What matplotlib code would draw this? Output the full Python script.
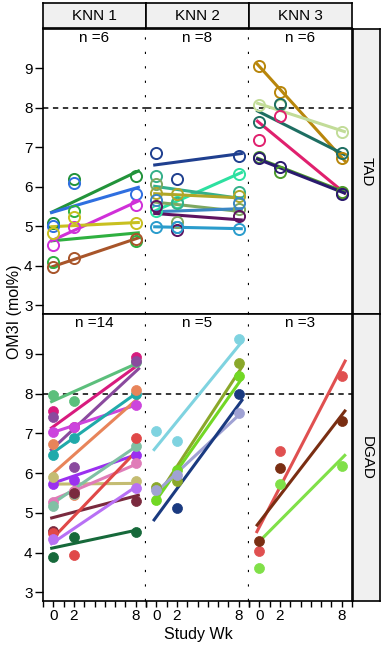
import numpy as np
import matplotlib
matplotlib.use('Agg')
import matplotlib.pyplot as plt

plt.rcParams['font.family'] = ['Liberation Sans', 'DejaVu Sans']

# semanas de estudio
weeks = [0, 2, 8]
nan = np.nan

col_labels = ['KNN 1', 'KNN 2', 'KNN 3']
row_labels = ['TAD', 'DGAD']

# TAD (circulos huecos): valores OM3I en sem 0, 2, 8 y recta ajustada (inicio, fin)
tad1_cols = ['#22933a', '#2f6fe0', '#2fb040', '#d030d8', '#c8c020', '#a8552a']
tad1_vals = [[5.09, 6.21, 6.28], [5.00, 6.10, 5.81], [4.10, 5.38, 4.63],
             [4.54, 4.99, 5.53], [4.83, 5.24, 5.09], [3.96, 4.21, 4.67]]
tad1_fit = [[5.34, 6.42], [5.34, 6.00], [4.63, 4.84],
            [4.62, 5.66], [4.99, 5.10], [3.96, 4.72]]

tad2_cols = ['#1f3f8f', '#2de0a0', '#35b08a', '#b0a628',
             '#7fa860', '#3a86c4', '#5e1260', '#2a9ccc']
tad2_vals = [[6.86, 6.19, 6.78], [5.40, 5.62, 6.32], [6.28, 5.58, 5.87],
             [5.85, 5.81, 5.77], [6.07, 5.11, 5.45], [5.66, 4.98, 5.58],
             [5.51, 4.92, 5.26], [4.98, 4.98, 4.94]]
tad2_fit = [[6.55, 6.85], [5.37, 6.38], [6.02, 5.70], [5.83, 5.72],
            [5.62, 5.37], [5.37, 5.45], [5.33, 5.16], [4.99, 4.94]]

tad3_cols = ['#b8860b', '#c2dc98', '#1e6e62', '#e0206e', '#4c9a2a', '#2a1a6e']
tad3_vals = [[9.06, 8.41, 6.73], [8.07, 8.07, 7.39], [7.65, 8.09, 6.85],
             [7.18, 7.79, 5.85], [6.76, 6.38, 5.88], [6.72, 6.51, 5.83]]
tad3_fit = [[9.14, 6.63], [8.13, 7.39], [7.94, 6.80],
            [7.69, 5.82], [6.74, 5.86], [6.72, 5.83]]

# DGAD (circulos llenos)
dgad1_cols = ['#5cbf7c', '#d81b7e', '#8a4a9e', '#cc44dd', '#20aaaa', '#e8845a', '#9b30f0',
              '#c4bc72', '#e07cb8', '#80c0a4', '#7a2a3e', '#e04848', '#b870f5', '#16693a']
dgad1_vals = [[7.95, 7.82, 8.79], [7.55, 7.15, 8.91], [7.40, 6.14, 8.83],
              [7.02, 7.15, 7.71], [6.45, 6.87, 7.98], [6.74, 5.45, 8.10],
              [5.72, 5.82, 6.45], [5.91, 5.55, 5.80], [5.28, 5.55, 6.24],
              [5.17, 5.48, 6.68], [4.54, 5.50, 5.30], [4.50, 3.93, 6.89],
              [4.34, nan, 5.62], [3.88, 4.39, 4.52]]
dgad1_fit = [[7.78, 8.79], [7.11, 8.75], [6.56, 8.65], [7.00, 7.74], [6.46, 8.07],
             [5.93, 7.92], [5.72, 6.49], [5.72, 5.74], [5.30, 6.26], [5.19, 6.73],
             [4.86, 5.45], [4.29, 6.64], [4.20, 5.72], [4.10, 4.58]]

dgad2_cols = ['#7fd3e0', '#8aa82a', '#72d824', '#a0a2d4', '#1a3a80']
dgad2_vals = [[7.06, 6.81, 9.38], [5.65, 5.80, 8.76], [5.31, 6.07, 8.43],
              [5.56, 5.95, 7.50], [nan, 5.13, 7.99]]
dgad2_fit = [[6.56, 9.33], [5.25, 8.70], [5.21, 8.41], [5.45, 7.55], [4.79, 7.86]]

dgad3_cols = ['#e05050', '#7a2e12', '#80e048']
dgad3_vals = [[4.03, 6.56, 8.45], [4.30, 6.12, 7.32], [3.61, 5.73, 6.18]]
dgad3_fit = [[4.49, 8.85], [4.66, 7.59], [4.20, 6.47]]

paneles = [[(tad1_cols, tad1_vals, tad1_fit), (tad2_cols, tad2_vals, tad2_fit),
            (tad3_cols, tad3_vals, tad3_fit)],
           [(dgad1_cols, dgad1_vals, dgad1_fit), (dgad2_cols, dgad2_vals, dgad2_fit),
            (dgad3_cols, dgad3_vals, dgad3_fit)]]

W, H = 383, 651
fig = plt.figure(figsize=(W / 100, H / 100), dpi=100)

x0, pw = 43, 103
rows_px = [(29, 314), (314, 601)]
line_x = np.array([-0.3, 8.4])

for r in range(2):
    top, bot = rows_px[r]
    for c in range(3):
        ax = fig.add_axes([(x0 + c * pw) / W, 1 - bot / H, pw / W, (bot - top) / H])
        cols, vals, fits = paneles[r][c]
        for k in range(len(cols)):
            ax.plot(line_x, fits[k], color=cols[k], lw=2.2, solid_capstyle='butt', zorder=2)
            if r == 0:
                ax.plot(weeks, vals[k], 'o', ls='none', ms=8, mfc='none',
                        mec=cols[k], mew=1.4, zorder=3)
            else:
                ax.plot(weeks, vals[k], 'o', ls='none', ms=7.2, mfc=cols[k],
                        mec=cols[k], mew=0.5, zorder=3)
        ax.axhline(8, color='black', lw=1.1, ls=(0, (3.5, 3)), zorder=1)
        ax.text(4, 9.78, 'n =%d' % len(cols), ha='center', va='center', fontsize=11)
        ax.set_xlim(-1, 9)
        ax.set_ylim(2.78, 10)
        for s in ax.spines.values():
            s.set_linewidth(1.2)
        if c > 0:
            ax.spines['left'].set_visible(False)
        if c < 2:
            ax.spines['right'].set_visible(False)
            ax.axvline(9, color='black', lw=1.6, ls=(0, (1, 5.5)), clip_on=False, zorder=4)
        if c == 0:
            ax.set_yticks([3, 4, 5, 6, 7, 8, 9])
            ax.tick_params(axis='y', length=6, width=1, pad=1.5, labelsize=11)
        else:
            ax.set_yticks([])
        if r == 1:
            ax.set_xticks(range(-1, 10))
            ax.set_xticklabels(['', '0', '', '2', '', '', '', '', '', '8', ''])
            ax.tick_params(axis='x', length=4.5, width=1, pad=1, labelsize=11)
        else:
            ax.set_xticks([])

# franjas superiores
for c in range(3):
    sa = fig.add_axes([(x0 + c * pw) / W, 1 - 28 / H, pw / W, 25 / H], facecolor='#f0f0f0')
    sa.set_xticks([]); sa.set_yticks([])
    for s in sa.spines.values():
        s.set_linewidth(1.2)
    sa.text(0.5, 0.5, col_labels[c], ha='center', va='center', fontsize=11,
            transform=sa.transAxes)

# franjas derechas
for r in range(2):
    top, bot = rows_px[r]
    sa = fig.add_axes([353 / W, 1 - bot / H, 27 / W, (bot - top) / H], facecolor='#f0f0f0')
    sa.set_xticks([]); sa.set_yticks([])
    for s in sa.spines.values():
        s.set_linewidth(1.2)
    sa.text(0.5, 0.5, row_labels[r], ha='center', va='center', fontsize=11,
            rotation=-90, transform=sa.transAxes)

fig.text(15 / W, 1 - 312 / H, 'OM3I (mol%)', rotation=90, ha='center', va='center', fontsize=11.5)
fig.text(198 / W, 1 - 634 / H, 'Study Wk', ha='center', va='center', fontsize=11.5)

fig.savefig('out.png', dpi=100)
